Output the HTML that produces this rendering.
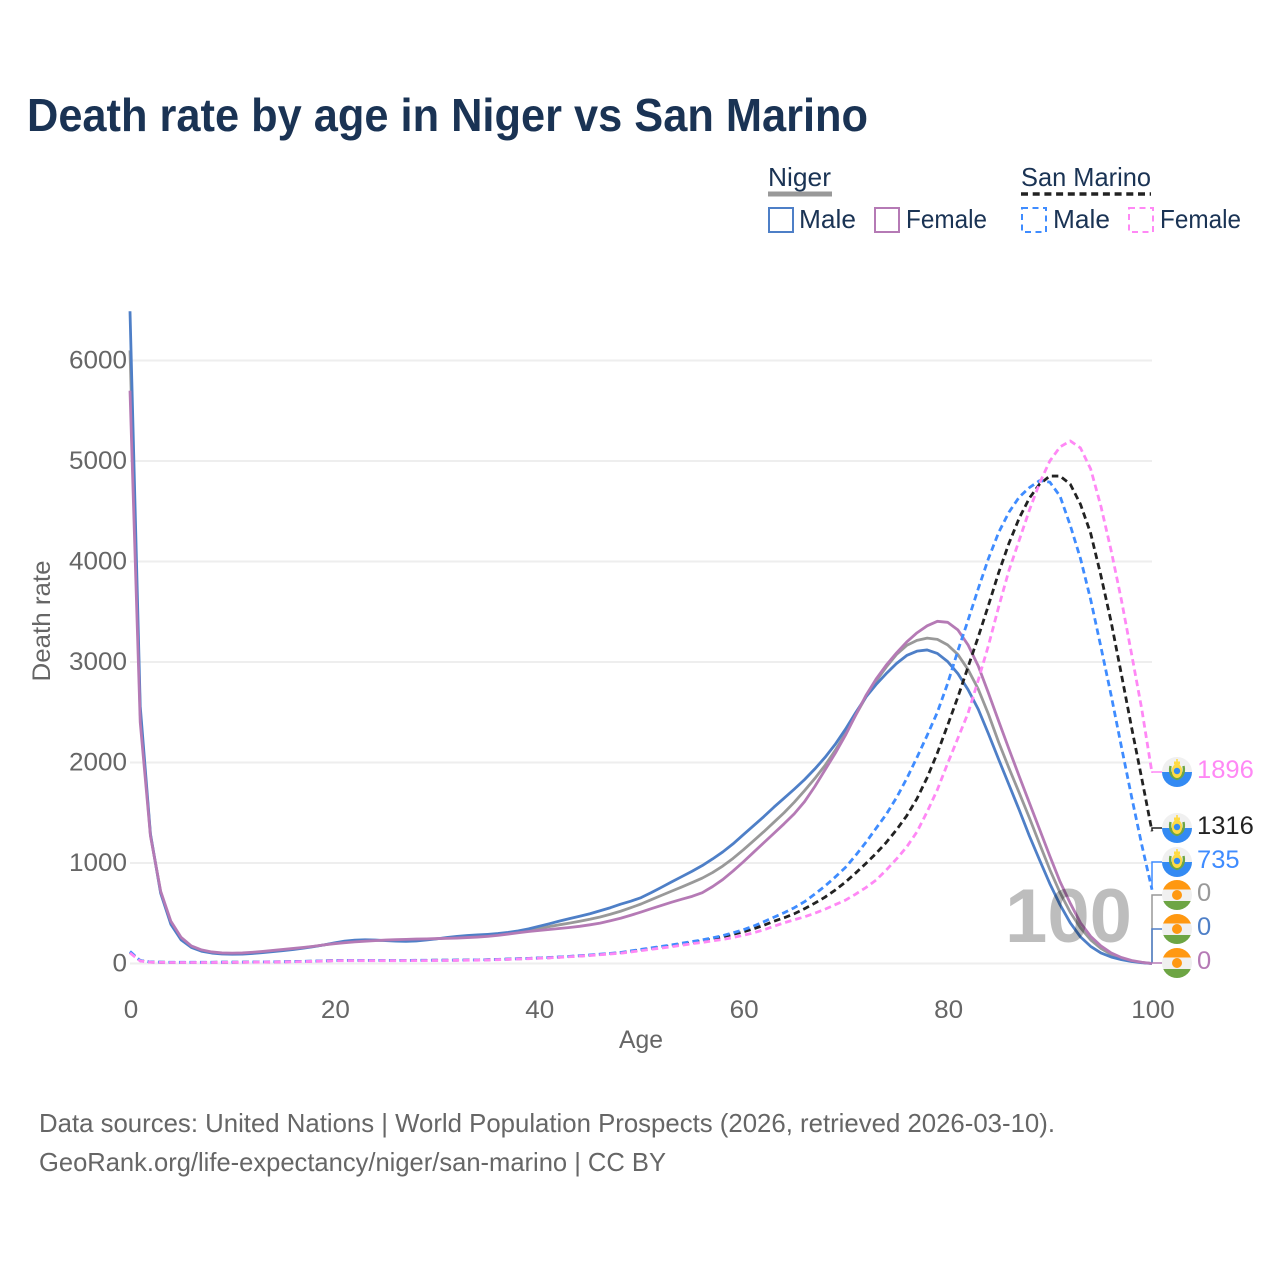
<!DOCTYPE html>
<html lang="en">
<head>
<meta charset="utf-8">
<title>Death rate by age in Niger vs San Marino</title>
<style>
html,body{margin:0;padding:0;background:#fff;width:1280px;height:1280px;overflow:hidden}
svg{display:block}
text{font-family:"Liberation Sans",sans-serif}
</style>
</head>
<body>
<svg id="chart" xmlns="http://www.w3.org/2000/svg" width="1280" height="1280" viewBox="0 0 1280 1280">
  <defs>
    <clipPath id="flag-clip"><circle cx="0" cy="0" r="15"/></clipPath>
    <g id="flag-sm">
      <g clip-path="url(#flag-clip)">
        <rect x="-15" y="-15" width="30" height="15" fill="#f0f0f0"/>
        <rect x="-15" y="0" width="30" height="15" fill="#338af3"/>
      </g>
      <path d="M-6.5,-6 Q-8.5,4 0,7 Q8.5,4 6.5,-6" fill="none" stroke="#6da544" stroke-width="2.4"/>
      <ellipse cx="0" cy="-1" rx="5.2" ry="7" fill="#ffda44"/>
      <circle cx="0" cy="-1" r="3.2" fill="#338af3"/>
      <rect x="-3" y="-10.5" width="6" height="3" fill="#ffda44"/>
      <rect x="-0.8" y="-13" width="1.6" height="3" fill="#ffda44"/>
    </g>
    <g id="flag-ne">
      <g clip-path="url(#flag-clip)">
        <rect x="-15" y="-15" width="30" height="30" fill="#f0f0f0"/>
        <rect x="-15" y="-15" width="30" height="9.5" fill="#ff9811"/>
        <rect x="-15" y="6" width="30" height="9" fill="#6da544"/>
      </g>
      <circle cx="0" cy="0" r="5" fill="#ff9811"/>
    </g>
  </defs>

  <text x="27" y="131" font-size="46" font-weight="700" fill="#1a3354" textLength="841" lengthAdjust="spacingAndGlyphs">Death rate by age in Niger vs San Marino</text>

  <g>
    <g>
      <text x="768" y="186" font-size="26" fill="#1a3354" textLength="63" lengthAdjust="spacingAndGlyphs">Niger</text>
      <line x1="768" x2="832" y1="194" y2="194" stroke="#999" stroke-width="5"/>
    </g>
    <g>
      <text x="1021" y="186" font-size="26" fill="#1a3354" textLength="130" lengthAdjust="spacingAndGlyphs">San Marino</text>
      <line x1="1021" x2="1151" y1="194" y2="194" stroke="#222" stroke-width="3.5" stroke-dasharray="7 4.7"/>
    </g>
    <g>
      <rect x="769" y="208" width="24" height="24" fill="none" stroke="#4e7fc7" stroke-width="2"/>
      <text x="799" y="228" font-size="26" fill="#1a3354" textLength="57" lengthAdjust="spacingAndGlyphs">Male</text>
    </g>
    <g>
      <rect x="875" y="208" width="24" height="24" fill="none" stroke="#b57ab5" stroke-width="2"/>
      <text x="906" y="228" font-size="26" fill="#1a3354" textLength="81" lengthAdjust="spacingAndGlyphs">Female</text>
    </g>
    <g>
      <rect x="1022" y="208" width="24" height="24" fill="none" stroke="#3f8cff" stroke-width="2" stroke-dasharray="6 4.5"/>
      <text x="1053" y="228" font-size="26" fill="#1a3354" textLength="57" lengthAdjust="spacingAndGlyphs">Male</text>
    </g>
    <g>
      <rect x="1129" y="208" width="24" height="24" fill="none" stroke="#ff88f5" stroke-width="2" stroke-dasharray="6 4.5"/>
      <text x="1160" y="228" font-size="26" fill="#1a3354" textLength="81" lengthAdjust="spacingAndGlyphs">Female</text>
    </g>
  </g>

  <g id="grid"></g>
  <g id="y-ticks"></g>
  <g id="x-ticks"></g>

  <text transform="translate(50,621) rotate(-90)" text-anchor="middle" font-size="25" fill="#666" textLength="121" lengthAdjust="spacingAndGlyphs">Death rate</text>
  <text x="641" y="1048" text-anchor="middle" font-size="25" fill="#666" textLength="44" lengthAdjust="spacingAndGlyphs">Age</text>

  <g id="series"></g>
  <text x="1005" y="942" font-size="76" font-weight="700" fill="#000000" fill-opacity="0.26" textLength="127" lengthAdjust="spacingAndGlyphs">100</text>
  <g id="end-labels"></g>

  <text x="39" y="1132" font-size="26" fill="#666" textLength="1016" lengthAdjust="spacingAndGlyphs">Data sources: United Nations | World Population Prospects (2026, retrieved 2026-03-10).</text>
  <text x="39" y="1171" font-size="26" fill="#666" textLength="627" lengthAdjust="spacingAndGlyphs">GeoRank.org/life-expectancy/niger/san-marino | CC BY</text>
</svg>

<script>
var yTickValues = [0, 1000, 2000, 3000, 4000, 5000, 6000];
var xTickValues = [0, 20, 40, 60, 80, 100];

var nigerMale = [6490,2560,1290,700,390,235,160,122,104,95,
92,94,100,108,118,128,140,153,168,185,
205,222,232,236,233,228,223,220,224,234,
245,258,270,278,284,290,298,310,325,345,
370,395,422,447,470,495,525,555,590,620,
655,705,758,812,865,918,975,1040,1110,1190,
1280,1370,1460,1555,1645,1735,1830,1935,2050,2180,
2330,2495,2650,2775,2885,2985,3065,3108,3120,3085,
3005,2885,2725,2530,2285,2030,1780,1530,1270,1030,
795,585,405,265,170,105,65,38,20,8,0];
var nigerTotal = [6100,2480,1280,710,405,248,168,128,110,100,
97,99,106,114,124,134,145,157,170,185,
201,215,224,229,230,230,230,230,233,239,
246,254,261,268,273,280,289,301,315,332,
349,367,385,402,420,440,463,490,520,555,
592,635,678,720,762,805,850,905,970,1045,
1130,1220,1310,1405,1500,1605,1720,1840,1970,2120,
2285,2470,2650,2810,2950,3075,3165,3215,3238,3225,
3170,3075,2925,2730,2480,2200,1945,1700,1450,1190,
935,705,510,355,235,150,90,50,25,10,0];
var nigerFemale = [5700,2400,1270,720,420,260,175,135,115,105,
103,105,112,120,130,140,150,160,172,185,
197,207,215,222,228,233,237,240,243,245,
248,250,253,258,263,270,280,293,306,318,
328,338,348,358,370,385,402,425,450,480,
512,545,578,610,640,668,705,765,835,920,
1010,1105,1200,1295,1390,1490,1610,1760,1925,2090,
2270,2470,2665,2830,2970,3090,3200,3290,3360,3405,
3395,3320,3170,2960,2690,2410,2135,1865,1600,1335,
1070,815,600,405,270,175,105,60,30,12,0];
var sanMarinoMale = [120,30,15,13,12,12,12,12,12,13,
13,14,15,16,17,18,20,22,24,27,
30,31,31,31,31,31,31,31,32,32,
33,33,34,35,36,38,41,44,48,51,
55,60,65,71,78,85,93,101,110,125,
140,155,170,185,202,218,235,255,278,305,
335,372,415,460,505,555,615,690,770,860,
955,1075,1205,1345,1485,1650,1840,2050,2270,2500,
2785,3110,3415,3730,4030,4290,4490,4640,4735,4805,
4790,4650,4360,4030,3620,3150,2670,2160,1660,1180,735];
var sanMarinoTotal = [110,28,14,12,11,11,11,11,11,12,
12,13,14,15,16,17,19,21,23,26,
29,30,30,30,30,30,30,30,31,31,
32,32,33,34,35,37,40,43,47,50,
54,58,63,69,75,82,90,98,106,120,
134,148,162,176,192,208,226,246,268,290,
315,345,380,420,455,495,545,600,660,730,
810,900,995,1095,1205,1330,1470,1640,1850,2095,
2370,2650,2950,3250,3565,3890,4180,4430,4630,4770,
4850,4850,4770,4570,4280,3860,3400,2880,2350,1840,1316];
var sanMarinoFemale = [105,25,13,11,10,10,10,10,10,11,
11,12,13,14,15,16,17,19,21,24,
27,28,28,28,28,28,28,28,29,29,
30,30,31,32,33,35,38,41,45,48,
52,56,61,67,73,80,87,95,102,115,
128,141,154,167,182,197,210,225,240,258,
280,305,335,370,405,435,465,500,540,585,
630,690,755,830,930,1040,1160,1310,1510,1730,
1990,2240,2490,2820,3165,3550,3910,4210,4510,4780,
5000,5140,5200,5130,4920,4550,4110,3620,3080,2530,1896];

var endFlags = ['sm','sm','sm','ne','ne','ne'];
var endLabels = ['1896','1316','735','0','0','0'];
var endColors = ['#ff88f5','#222222','#3f8cff','#999999','#4e7fc7','#b57ab5'];
var endSeries = [sanMarinoFemale,sanMarinoTotal,sanMarinoMale,nigerTotal,nigerMale,nigerFemale];
var endNames = ['san-marino-female','san-marino-total','san-marino-male','niger-total','niger-male','niger-female'];

var SVGNS = 'http://www.w3.org/2000/svg';
function xScale(age){ return 130 + age * 10.22; }
function yScale(v){ return 963.5 - v * 0.1005; }
function labelY(slot){ return [772,828,862,895,929,963][slot]; }
function make(tag, parent){
  var el = document.createElementNS(SVGNS, tag);
  parent.appendChild(el);
  return el;
}

var grid = document.getElementById('grid');
var yTicks = document.getElementById('y-ticks');
var xTicks = document.getElementById('x-ticks');

yTickValues.forEach(function(v){
  var l = make('line', grid);
  
  
  l.setAttribute('x1', 130);
  l.setAttribute('x2', 1152);
  l.setAttribute('y1', yScale(v));
  l.setAttribute('y2', yScale(v));
  l.setAttribute('stroke', '#eeeeee');
  l.setAttribute('stroke-width', 2);
  var t = make('text', yTicks);
  
  
  var s = String(v);
  t.setAttribute('x', 127 - s.length * 14.5);
  t.setAttribute('y', yScale(v) + 8);
  t.setAttribute('font-size', 25);
  t.setAttribute('fill', '#666');
  t.setAttribute('textLength', s.length * 14.5);
  t.setAttribute('lengthAdjust', 'spacingAndGlyphs');
  t.textContent = s;
});

xTickValues.forEach(function(v){
  var t = make('text', xTicks);
  
  
  var s = String(v);
  var w = s.length * 14.5;
  t.setAttribute('x', xScale(v) - w / 2 + 1);
  t.setAttribute('y', 1018);
  t.setAttribute('font-size', 25);
  t.setAttribute('fill', '#666');
  t.setAttribute('textLength', w);
  t.setAttribute('lengthAdjust', 'spacingAndGlyphs');
  t.textContent = s;
});

var seriesGroup = document.getElementById('series');
function drawSeries(values, name, color, dash){
  var d = values.map(function(v, i){
    return (i ? 'L' : 'M') + xScale(i).toFixed(2) + ',' + yScale(v).toFixed(2);
  }).join(' ');
  var p = make('path', seriesGroup);
  
  
  p.setAttribute('d', d);
  p.setAttribute('fill', 'none');
  p.setAttribute('stroke', color);
  p.setAttribute('stroke-width', 2.8);
  p.setAttribute('stroke-linejoin', 'round');
  if (dash) p.setAttribute('stroke-dasharray', dash);
}
drawSeries(nigerTotal, 'niger-total', '#999999', '');
drawSeries(nigerMale, 'niger-male', '#4e7fc7', '');
drawSeries(nigerFemale, 'niger-female', '#b57ab5', '');
drawSeries(sanMarinoTotal, 'san-marino-total', '#222222', '6.5 4');
drawSeries(sanMarinoMale, 'san-marino-male', '#3f8cff', '6.5 4');
drawSeries(sanMarinoFemale, 'san-marino-female', '#ff88f5', '6.5 4');

var endGroup = document.getElementById('end-labels');
endLabels.forEach(function(label, i){
  var ly = labelY(i);
  var vy = yScale(endSeries[i][100]);
  var c = make('path', endGroup);
  
  
  c.setAttribute('d', 'M1152,' + vy.toFixed(1) + ' L1152,' + ly + ' L1162,' + ly);
  c.setAttribute('fill', 'none');
  c.setAttribute('stroke', endColors[i]);
  c.setAttribute('stroke-width', 1.5);
  var f = make('use', endGroup);
  
  
  f.setAttribute('href', '#flag-' + endFlags[i]);
  f.setAttribute('x', 1177);
  f.setAttribute('y', ly);
  var t = make('text', endGroup);
  
  
  t.setAttribute('x', 1197);
  t.setAttribute('y', ly + 6);
  t.setAttribute('font-size', 25);
  t.setAttribute('fill', endColors[i]);
  t.setAttribute('textLength', label.length * 14.2);
  t.setAttribute('lengthAdjust', 'spacingAndGlyphs');
  t.textContent = label;
});
</script>
</body>
</html>
